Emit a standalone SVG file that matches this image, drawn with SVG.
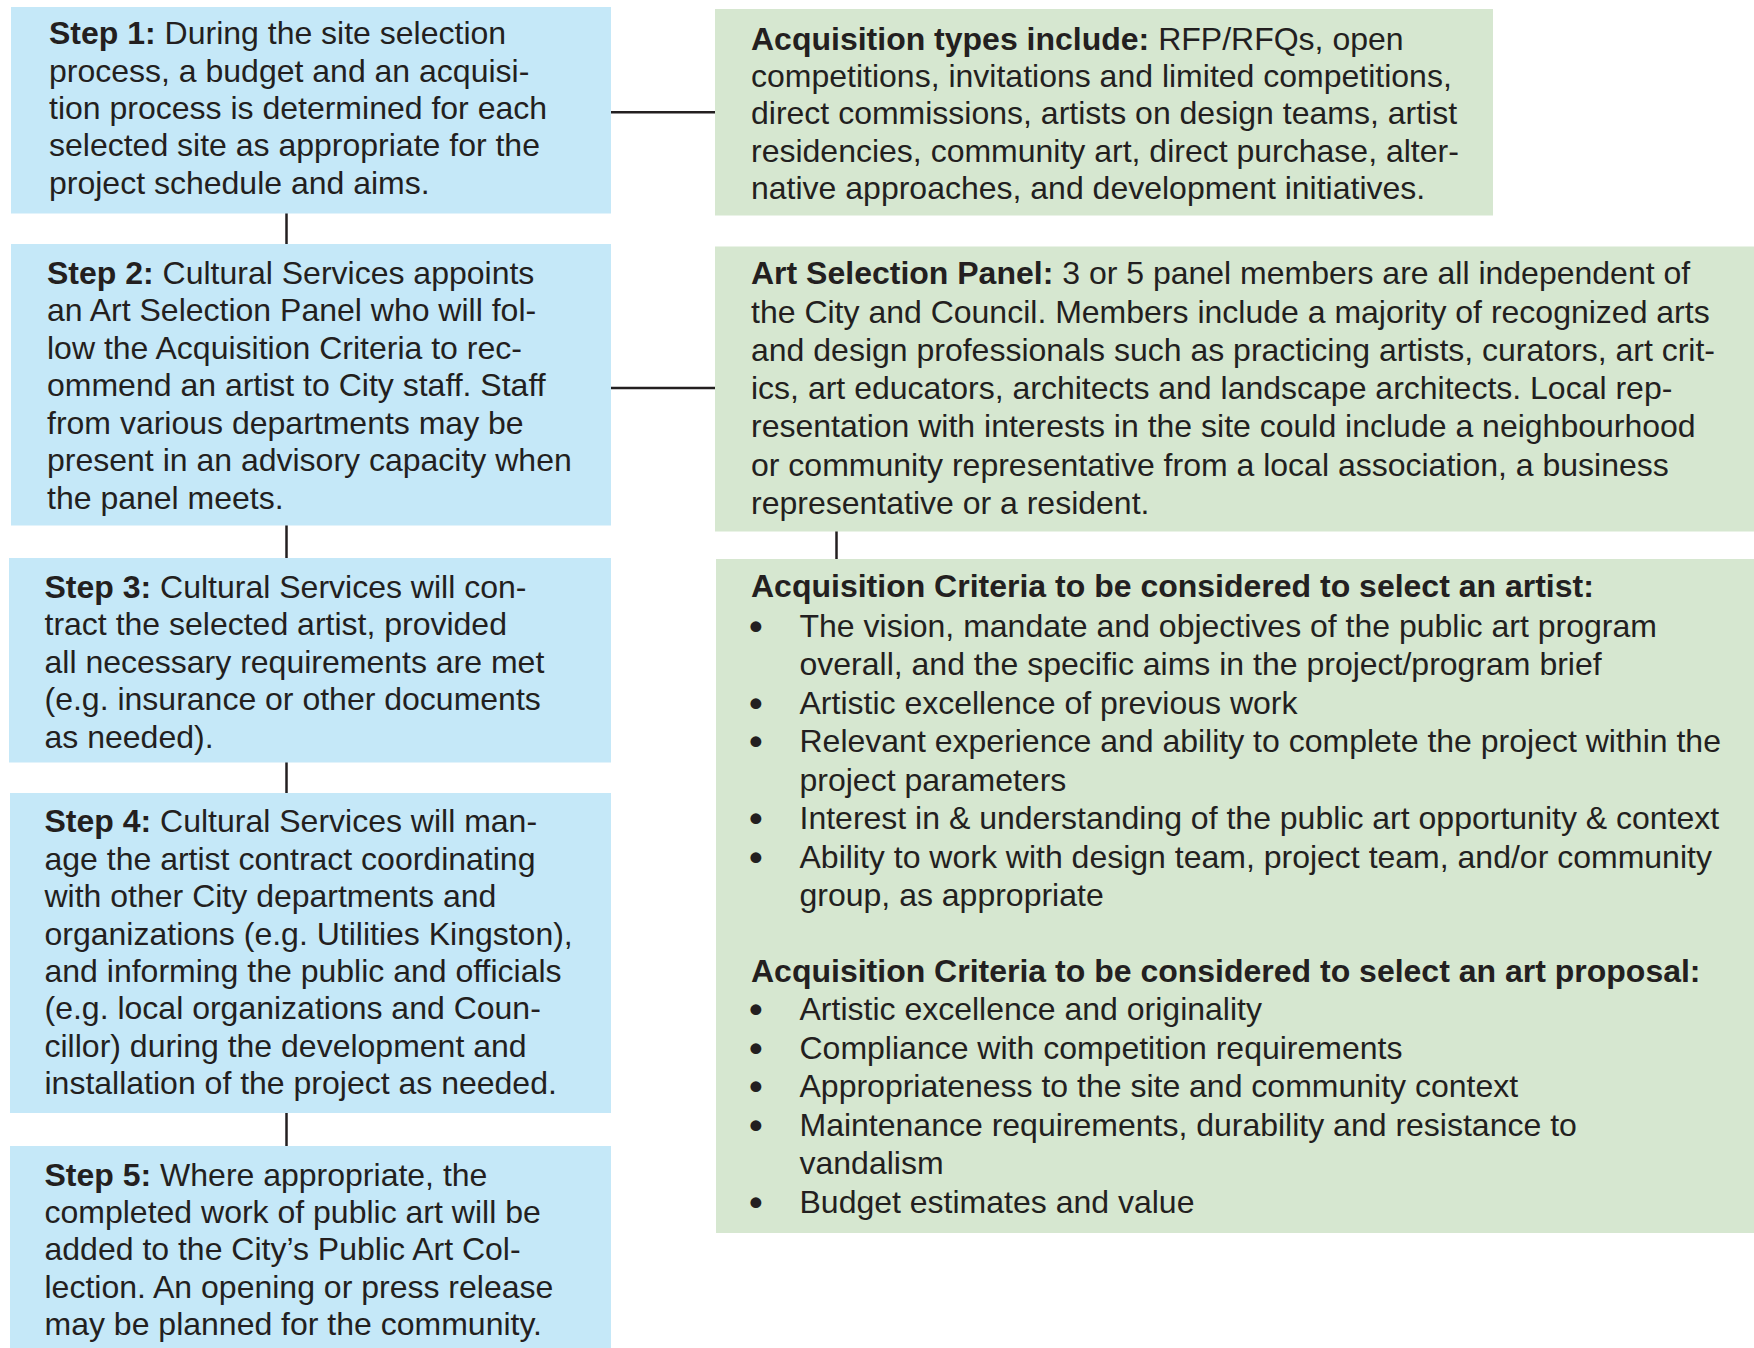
<svg xmlns="http://www.w3.org/2000/svg" width="1754" height="1348" viewBox="0 0 1754 1348">
  <style>
    .step { fill: #c5e8f8; }
    .info { fill: #d6e7d0; }
    .link { stroke: #231f20; stroke-width: 2.5; fill: none; }
    text { font-family: "Liberation Sans", Arial, Helvetica, sans-serif; font-size: 32px; fill: #231f20; }
    .b { font-weight: bold; }
    .dot { stroke: #231f20; stroke-width: 2.2; stroke-linejoin: round; }
  </style>
  <rect width="1754" height="1348" fill="#ffffff"/>

  <!-- connectors -->
  <g id="connectors">
    <line class="link" x1="286.5" y1="213" x2="286.5" y2="244.5"/>
    <line class="link" x1="286.5" y1="525" x2="286.5" y2="558.5"/>
    <line class="link" x1="286.5" y1="762" x2="286.5" y2="793.5"/>
    <line class="link" x1="286.5" y1="1112.5" x2="286.5" y2="1146.5"/>
    <line class="link" x1="610.5" y1="112.3" x2="715.5" y2="112.3"/>
    <line class="link" x1="610.5" y1="388" x2="715.5" y2="388"/>
    <line class="link" x1="836.5" y1="531" x2="836.5" y2="559.5"/>
  </g>

  <!-- left column: process steps -->
  <g id="step1">
    <rect class="step" x="11" y="7" width="600" height="206.5"/>
    <text>
      <tspan x="49" y="44.3"><tspan class="b">Step 1:</tspan> During the site selection</tspan>
      <tspan x="49" y="81.6">process, a budget and an acquisi-</tspan>
      <tspan x="49" y="118.9">tion process is determined for each</tspan>
      <tspan x="49" y="156.2">selected site as appropriate for the</tspan>
      <tspan x="49" y="193.5">project schedule and aims.</tspan>
    </text>
  </g>

  <g id="step2">
    <rect class="step" x="11" y="244" width="600" height="281.5"/>
    <text>
      <tspan x="47" y="283.5"><tspan class="b">Step 2:</tspan> Cultural Services appoints</tspan>
      <tspan x="47" y="321">an Art Selection Panel who will fol-</tspan>
      <tspan x="47" y="358.5">low the Acquisition Criteria to rec-</tspan>
      <tspan x="47" y="396">ommend an artist to City staff. Staff</tspan>
      <tspan x="47" y="433.5">from various departments may be</tspan>
      <tspan x="47" y="471">present in an advisory capacity when</tspan>
      <tspan x="47" y="508.5">the panel meets.</tspan>
    </text>
  </g>

  <g id="step3">
    <rect class="step" x="9" y="558" width="602" height="204.5"/>
    <text>
      <tspan x="44.5" y="598"><tspan class="b">Step 3:</tspan> Cultural Services will con-</tspan>
      <tspan x="44.5" y="635.4">tract the selected artist, provided</tspan>
      <tspan x="44.5" y="672.8">all necessary requirements are met</tspan>
      <tspan x="44.5" y="710.2">(e.g. insurance or other documents</tspan>
      <tspan x="44.5" y="747.6">as needed).</tspan>
    </text>
  </g>

  <g id="step4">
    <rect class="step" x="10" y="793" width="601" height="320"/>
    <text>
      <tspan x="44.5" y="832.3"><tspan class="b">Step 4:</tspan> Cultural Services will man-</tspan>
      <tspan x="44.5" y="869.7">age the artist contract coordinating</tspan>
      <tspan x="44.5" y="907.1">with other City departments and</tspan>
      <tspan x="44.5" y="944.5">organizations (e.g. Utilities Kingston),</tspan>
      <tspan x="44.5" y="981.9">and informing the public and officials</tspan>
      <tspan x="44.5" y="1019.3">(e.g. local organizations and Coun-</tspan>
      <tspan x="44.5" y="1056.7">cillor) during the development and</tspan>
      <tspan x="44.5" y="1094.2">installation of the project as needed.</tspan>
    </text>
  </g>

  <g id="step5">
    <rect class="step" x="10" y="1146" width="601" height="202"/>
    <text>
      <tspan x="44.5" y="1185.5"><tspan class="b">Step 5:</tspan> Where appropriate, the</tspan>
      <tspan x="44.5" y="1222.9">completed work of public art will be</tspan>
      <tspan x="44.5" y="1260.3">added to the City’s Public Art Col-</tspan>
      <tspan x="44.5" y="1297.7">lection. An opening or press release</tspan>
      <tspan x="44.5" y="1335">may be planned for the community.</tspan>
    </text>
  </g>

  <!-- right column: details -->
  <g id="acquisition-types">
    <rect class="info" x="715" y="9" width="778" height="206.5"/>
    <text>
      <tspan x="751" y="50"><tspan class="b">Acquisition types include:</tspan> RFP/RFQs, open</tspan>
      <tspan x="751" y="87.2">competitions, invitations and limited competitions,</tspan>
      <tspan x="751" y="124.4">direct commissions, artists on design teams, artist</tspan>
      <tspan x="751" y="161.6">residencies, community art, direct purchase, alter-</tspan>
      <tspan x="751" y="198.8">native approaches, and development initiatives.</tspan>
    </text>
  </g>

  <g id="art-selection-panel">
    <rect class="info" x="715" y="246.5" width="1039" height="285"/>
    <text>
      <tspan x="751" y="284.3"><tspan class="b">Art Selection Panel:</tspan> 3 or 5 panel members are all independent of</tspan>
      <tspan x="751" y="322.6">the City and Council. Members include a majority of recognized arts</tspan>
      <tspan x="751" y="360.9">and design professionals such as practicing artists, curators, art crit-</tspan>
      <tspan x="751" y="399.1">ics, art educators, architects and landscape architects. Local rep-</tspan>
      <tspan x="751" y="437.4">resentation with interests in the site could include a neighbourhood</tspan>
      <tspan x="751" y="475.7">or community representative from a local association, a business</tspan>
      <tspan x="751" y="514">representative or a resident.</tspan>
    </text>
  </g>

  <g id="acquisition-criteria">
    <rect class="info" x="716" y="559" width="1038" height="674"/>
    <text>
      <tspan class="b" x="751" y="597.3">Acquisition Criteria to be considered to select an artist:</tspan>
      <tspan class="dot" x="750.2" y="636.7">•</tspan><tspan x="799.5" y="636.7">The vision, mandate and objectives of the public art program</tspan>
      <tspan x="799.5" y="675.2">overall, and the specific aims in the project/program brief</tspan>
      <tspan class="dot" x="750.2" y="713.7">•</tspan><tspan x="799.5" y="713.7">Artistic excellence of previous work</tspan>
      <tspan class="dot" x="750.2" y="752.2">•</tspan><tspan x="799.5" y="752.2">Relevant experience and ability to complete the project within the</tspan>
      <tspan x="799.5" y="790.7">project parameters</tspan>
      <tspan class="dot" x="750.2" y="829.2">•</tspan><tspan x="799.5" y="829.2">Interest in &amp; understanding of the public art opportunity &amp; context</tspan>
      <tspan class="dot" x="750.2" y="867.7">•</tspan><tspan x="799.5" y="867.7">Ability to work with design team, project team, and/or community</tspan>
      <tspan x="799.5" y="906.2">group, as appropriate</tspan>
      <tspan class="b" x="751" y="981.7">Acquisition Criteria to be considered to select an art proposal:</tspan>
      <tspan class="dot" x="750.2" y="1020">•</tspan><tspan x="799.5" y="1020">Artistic excellence and originality</tspan>
      <tspan class="dot" x="750.2" y="1058.5">•</tspan><tspan x="799.5" y="1058.5">Compliance with competition requirements</tspan>
      <tspan class="dot" x="750.2" y="1097">•</tspan><tspan x="799.5" y="1097">Appropriateness to the site and community context</tspan>
      <tspan class="dot" x="750.2" y="1135.5">•</tspan><tspan x="799.5" y="1135.5">Maintenance requirements, durability and resistance to</tspan>
      <tspan x="799.5" y="1174">vandalism</tspan>
      <tspan class="dot" x="750.2" y="1212.5">•</tspan><tspan x="799.5" y="1212.5">Budget estimates and value</tspan>
    </text>
  </g>
</svg>
